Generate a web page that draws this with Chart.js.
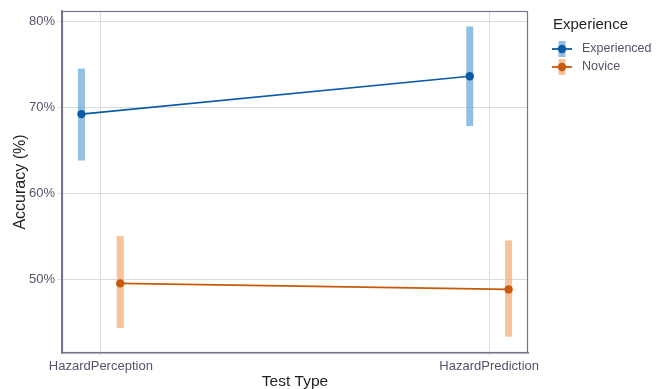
<!DOCTYPE html>
<html>
<head>
<meta charset="utf-8">
<script src="https://cdn.jsdelivr.net/npm/chart.js@4.4.1/dist/chart.umd.min.js"></script>
<style>
  html, body { margin: 0; padding: 0; background: #ffffff; }
  #wrap { width: 667px; height: 389px; position: relative; }
</style>
</head>
<body>
<div id="wrap"><canvas id="c" width="667" height="389"></canvas></div>
<script>
// ---- Data ----
const categories = ["HazardPerception", "HazardPrediction"];
const seriesNames = ["Experienced", "Novice"];
const experiencedMean = [69.2, 73.6];
const experiencedLow  = [63.8, 67.8];
const experiencedHigh = [74.5, 79.4];
const noviceMean = [49.5, 48.8];
const noviceLow  = [44.3, 43.3];
const noviceHigh = [55.0, 54.5];
const yTicks = [50, 60, 70, 80];
const legendTitle = "Experience";
const xTitle = "Test Type";
const yTitle = "Accuracy (%)";

// ---- Style ----
const lineColors = ["#0b5ca8", "#c95a0a"];
const barColors = ["rgba(105,168,214,0.72)", "rgba(245,170,115,0.72)"];
const dodge = [-0.05, 0.05];
const textColor = "#55536a";
const titleColor = "#1f1f1f";
const gridColor = "#dcdcdc";
const frameColor = "#77738c";
const FONT = "'Liberation Sans', Arial, sans-serif";

const means = [experiencedMean, noviceMean];
const lows = [experiencedLow, noviceLow];
const highs = [experiencedHigh, noviceHigh];

const datasets = [];
seriesNames.forEach((name, s) => {
  categories.forEach((cat, i) => {
    datasets.push({
      type: 'line',
      label: '_err',
      data: [{x: i + 1 + dodge[s], y: lows[s][i]}, {x: i + 1 + dodge[s], y: highs[s][i]}],
      borderColor: barColors[s],
      borderWidth: 7,
      borderCapStyle: 'butt',
      pointRadius: 0,
      order: 2
    });
  });
});
seriesNames.forEach((name, s) => {
  datasets.push({
    type: 'line',
    label: name,
    data: categories.map((c, i) => ({x: i + 1 + dodge[s], y: means[s][i]})),
    borderColor: lineColors[s],
    backgroundColor: lineColors[s],
    borderWidth: 1.6,
    pointRadius: 4.2,
    pointHoverRadius: 4.2,
    pointBorderWidth: 0,
    order: 1
  });
});

const framePlugin = {
  id: 'frame',
  afterDraw(chart) {
    const {ctx, chartArea: a} = chart;
    ctx.save();
    ctx.strokeStyle = frameColor;
    ctx.lineWidth = 1.2;
    ctx.strokeRect(a.left + 0.5, a.top + 0.5, a.right - a.left - 1, a.bottom - a.top - 1);
    ctx.fillStyle = titleColor;
    ctx.font = "15px " + FONT;
    ctx.textBaseline = 'middle';
    ctx.textAlign = 'left';
    ctx.fillText(legendTitle, 553, 25);
    const ys = [49, 67];
    seriesNames.forEach((name, s) => {
      const cx = 562, cy = ys[s];
      ctx.fillStyle = barColors[s];
      ctx.fillRect(cx - 3.5, cy - 8, 7, 16);
      ctx.strokeStyle = lineColors[s];
      ctx.lineWidth = 1.8;
      ctx.beginPath(); ctx.moveTo(cx - 10, cy); ctx.lineTo(cx + 10, cy); ctx.stroke();
      ctx.fillStyle = lineColors[s];
      ctx.beginPath(); ctx.arc(cx, cy, 4.2, 0, Math.PI * 2); ctx.fill();
      ctx.fillStyle = textColor;
      ctx.font = "12.5px " + FONT;
      ctx.fillText(name, 582, cy);
    });
    ctx.restore();
  }
};

new Chart(document.getElementById('c'), {
  type: 'line',
  data: { datasets },
  options: {
    responsive: false,
    animation: false,
    layout: { padding: { top: 11, right: 139, left: 0, bottom: 0 } },
    plugins: {
      legend: { display: false },
      tooltip: { enabled: false }
    },
    scales: {
      x: {
        type: 'linear',
        min: 0.9,
        max: 2.1,
        afterBuildTicks: (axis) => { axis.ticks = categories.map((c, i) => ({value: i + 1})); },
        afterFit: (axis) => { axis.height = 36; },
        ticks: {
          callback: (v) => categories[Math.round(v) - 1] || '',
          color: textColor,
          font: { family: FONT, size: 13 },
          padding: 3,
          maxRotation: 0,
          autoSkip: false
        },
        grid: { color: gridColor, lineWidth: 1, tickLength: 3, tickColor: gridColor },
        border: { color: frameColor, width: 1.5 },
        title: { display: true, text: xTitle, color: titleColor, font: { family: FONT, size: 15.5, lineHeight: 1 }, padding: { top: -3, bottom: 0 } }
      },
      y: {
        type: 'linear',
        min: 41.4,
        max: 81.2,
        afterBuildTicks: (axis) => { axis.ticks = yTicks.map(v => ({value: v})); },
        afterFit: (axis) => { axis.width = 62; },
        ticks: {
          callback: (v) => v + '%',
          color: textColor,
          font: { family: FONT, size: 13 },
          padding: 3
        },
        grid: { color: gridColor, lineWidth: 1, tickLength: 4, tickColor: gridColor },
        border: { color: frameColor, width: 1.5 },
        title: { display: true, text: yTitle, color: titleColor, font: { family: FONT, size: 16, lineHeight: 1 }, padding: { top: 13, bottom: 0 } }
      }
    }
  },
  plugins: [framePlugin]
});
</script>
</body>
</html>
